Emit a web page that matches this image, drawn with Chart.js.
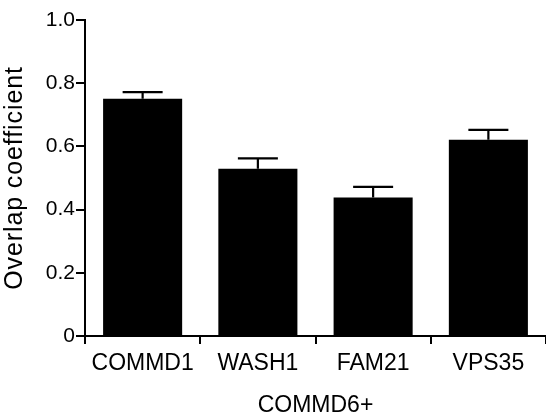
<!DOCTYPE html>
<html>
<head>
<meta charset="utf-8">
<script src="https://cdn.jsdelivr.net/npm/chart.js@4"></script>
<style>
html,body{margin:0;padding:0;background:#fff;}
#wrap{width:546px;height:419px;position:relative;}
</style>
</head>
<body>
<div id="wrap"><canvas id="c" width="546" height="419"></canvas></div>
<script>
const categories = ["COMMD1", "WASH1", "FAM21", "VPS35"];
const means = [0.751, 0.529, 0.438, 0.621];
const sem = [0.021, 0.033, 0.034, 0.031];
const yTicks = [0, 0.2, 0.4, 0.6, 0.8, 1.0];
const xTitle = "COMMD6+";
const yTitle = "Overlap coefficient";

const FONT = "'Liberation Sans', Arial, Helvetica, sans-serif";

const errorBars = {
  id: 'errorBars',
  afterDatasetsDraw(chart) {
    const ctx = chart.ctx;
    const meta = chart.getDatasetMeta(0);
    const y = chart.scales.y;
    ctx.save();
    ctx.strokeStyle = '#000';
    ctx.lineWidth = 2.2;
    meta.data.forEach((bar, i) => {
      const x = bar.x;
      const yTop = y.getPixelForValue(means[i] + sem[i]);
      const yBase = y.getPixelForValue(means[i]);
      const half = 20;
      ctx.beginPath();
      ctx.moveTo(x, yBase);
      ctx.lineTo(x, yTop);
      ctx.moveTo(x - half, yTop);
      ctx.lineTo(x + half, yTop);
      ctx.stroke();
    });
    ctx.restore();
  }
};

new Chart(document.getElementById('c'), {
  type: 'bar',
  data: {
    labels: categories,
    datasets: [{
      data: means,
      backgroundColor: '#000',
      borderColor: '#000',
      borderWidth: 0,
      categoryPercentage: 1,
      barPercentage: 0.686
    }]
  },
  options: {
    responsive: false,
    animation: false,
    devicePixelRatio: 1,
    layout: { padding: { top: 20, right: 0, left: 0, bottom: 0 } },
    plugins: { legend: { display: false }, tooltip: { enabled: false } },
    scales: {
      x: {
        grid: { display: true, drawOnChartArea: false, drawTicks: true, tickLength: 8, color: '#000', lineWidth: 2 },
        border: { display: true, color: '#000', width: 2 },
        ticks: { color: '#000', font: { family: FONT, size: 23 }, padding: 6, maxRotation: 0 },
        title: { display: true, text: xTitle, color: '#000', font: { family: FONT, size: 23 }, padding: { top: 8, bottom: 0 } },
        afterFit(scale) { scale.height = 83; }
      },
      y: {
        min: 0, max: 1.0,
        afterBuildTicks(scale) { scale.ticks = yTicks.map(v => ({ value: v })); },
        grid: { display: true, drawOnChartArea: false, drawTicks: true, tickLength: 9, color: '#000', lineWidth: 2 },
        border: { display: true, color: '#000', width: 2 },
        ticks: {
          color: '#000', font: { family: FONT, size: 21 }, padding: 1,
          callback: (v) => v === 0 ? '0' : v.toFixed(1)
        },
        title: { display: true, text: yTitle, color: '#000', font: { family: FONT, size: 25 }, padding: { top: 0, bottom: 4 } },
        afterFit(scale) {
          scale.width = 85;
          if (!scale._lsPatched) {
            const orig = scale.drawTitle;
            scale.drawTitle = function () {
              const ctx = this.ctx;
              const prev = ctx.letterSpacing;
              ctx.letterSpacing = '0.9px';
              orig.apply(this, arguments);
              ctx.letterSpacing = prev || '0px';
            };
            scale._lsPatched = true;
          }
        }
      }
    }
  },
  plugins: [errorBars]
});
</script>
</body>
</html>
